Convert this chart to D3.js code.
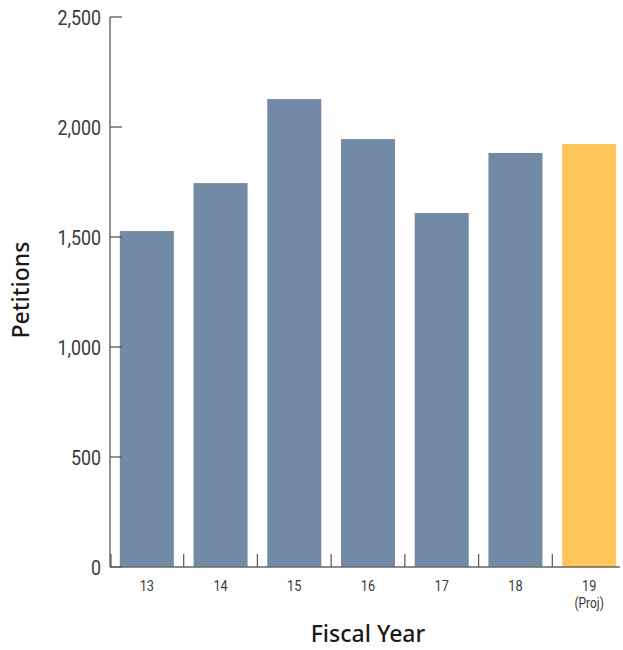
<!DOCTYPE html>
<html><head><meta charset="utf-8">
<script src="https://cdn.jsdelivr.net/npm/d3@7"></script>
<style>
body{margin:0;background:#fff;}
svg{display:block;}
.tick-label{font-family:"Roboto","Liberation Sans",sans-serif;font-weight:400;fill:#3a3a3a;}
.title{font-family:"Noto Sans","Open Sans",sans-serif;font-weight:500;fill:#1a1a1a;}
</style>
</head><body>
<svg id="chart" width="623" height="650"></svg>
<script>
const categories = ["13","14","15","16","17","18","19"];
const subLabels = ["","","","","","","(Proj)"];
const values = [1527, 1745, 2127, 1945, 1609, 1882, 1923];
const projected = [false,false,false,false,false,false,true];
const yTicks = [0,500,1000,1500,2000,2500];

const svg = d3.select("#chart");
const x0 = 110, x1 = 626, yTop = 17, yBot = 567;
const narrow = 0.85;

const x = d3.scaleBand().domain(categories).range([x0, x1]).paddingInner(0.267).paddingOuter(0.133);
const y = d3.scaleLinear().domain([0, 2500]).range([yBot, yTop]);

// bars
svg.selectAll("rect.bar").data(values).enter().append("rect")
  .attr("x", (d,i) => x(categories[i]))
  .attr("width", x.bandwidth())
  .attr("y", d => y(d))
  .attr("height", d => yBot - y(d))
  .attr("fill", (d,i) => projected[i] ? "#fec55a" : "#728aa5");

// y axis line
svg.append("line").attr("x1", x0).attr("x2", x0).attr("y1", yTop).attr("y2", yBot)
  .attr("stroke", "#777").attr("stroke-width", 1.6);
// y ticks (inward)
svg.selectAll("line.ytick").data(yTicks).enter().append("line")
  .attr("x1", x0).attr("x2", x0 + 12)
  .attr("y1", d => y(d)).attr("y2", d => y(d))
  .attr("stroke", "#555").attr("stroke-width", 1.3);
svg.selectAll("text.ylab").data(yTicks).enter().append("text")
  .attr("class", "tick-label")
  .attr("transform", d => `translate(${x0 - 9},${y(d)}) scale(${narrow},1)`)
  .attr("dy", "0.36em")
  .attr("text-anchor", "end")
  .attr("font-size", 21)
  .text(d => d3.format(",")(d));

// x axis line
svg.append("line").attr("x1", x0).attr("x2", 620).attr("y1", yBot).attr("y2", yBot)
  .attr("stroke", "#666").attr("stroke-width", 1.4);
// x ticks at band boundaries (inward)
const step = x.step();
const boundaries = categories.slice(1).map(c => x(c) - (step - x.bandwidth())/2);
svg.selectAll("line.xtick").data(boundaries).enter().append("line")
  .attr("x1", d => d).attr("x2", d => d)
  .attr("y1", yBot).attr("y2", yBot - 13)
  .attr("stroke", "#555").attr("stroke-width", 1.2);
svg.append("line").attr("x1", x0 + 1).attr("x2", x0 + 1).attr("y1", yBot).attr("y2", yBot - 13)
  .attr("stroke", "#555").attr("stroke-width", 1.2);

// x labels
svg.selectAll("text.xlab").data(categories).enter().append("text")
  .attr("class", "tick-label")
  .attr("transform", d => `translate(${x(d) + x.bandwidth()/2},591) scale(${narrow},1)`)
  .attr("text-anchor", "middle").attr("font-size", 15)
  .text(d => d);
svg.selectAll("text.xsub").data(subLabels).enter().append("text")
  .attr("class", "tick-label")
  .attr("transform", (d,i) => `translate(${x(categories[i]) + x.bandwidth()/2},608) scale(${narrow},1)`)
  .attr("text-anchor", "middle").attr("font-size", 14)
  .text(d => d);

// titles
svg.append("text").attr("class", "title")
  .attr("x", 368).attr("y", 642).attr("text-anchor", "middle")
  .attr("font-size", 23).text("Fiscal Year");
svg.append("text").attr("class", "title")
  .attr("transform", "translate(29,290) rotate(-90)")
  .attr("text-anchor", "middle").attr("font-size", 23).text("Petitions");
</script>
</body></html>
